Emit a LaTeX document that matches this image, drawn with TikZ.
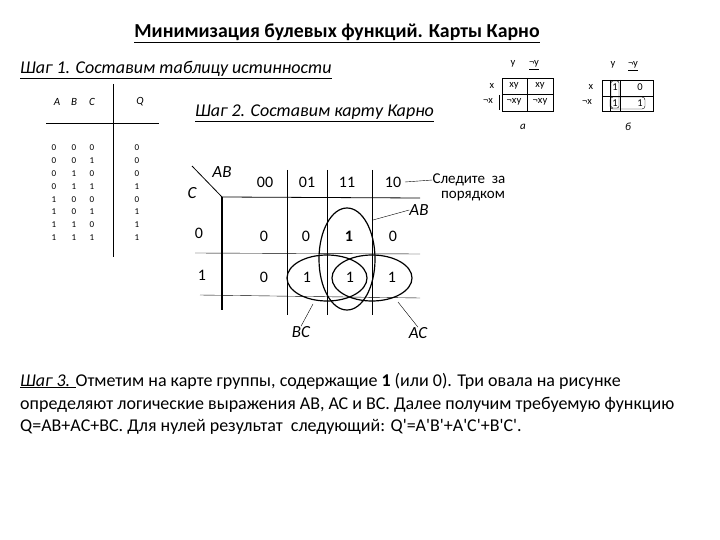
\documentclass[tikz,border=0pt]{standalone}
\usepackage{fontspec}
\setmainfont{Carlito}
\newfontfamily\primefont{Carlito}
\newcommand{\prm}{{\primefont '}}
\tikzset{
    heading/.style={anchor=base west,inner sep=0pt,font=\fontsize{18}{20}\selectfont},
    steptext/.style={anchor=base west,inner sep=0pt,font=\fontsize{18}{20}\selectfont\itshape},
    bit/.style={inner sep=0pt,font=\fontsize{9}{10}\selectfont},
    headbit/.style={inner sep=0pt,font=\fontsize{11}{12}\selectfont\itshape},
    mapbit/.style={inner sep=0pt,font=\fontsize{16}{18}\selectfont},
    notetext/.style={inner sep=0pt,font=\fontsize{15}{16}\selectfont},
    maplabel/.style={inner sep=0pt,font=\fontsize{17}{18}\selectfont\itshape},
    smalltext/.style={inner sep=0pt,font=\fontsize{10.5}{12}\selectfont},
    oval/.style={line width=1.2pt}
}
\begin{document}
\begin{tikzpicture}[x=1pt,y=-1pt]
    \useasboundingbox (0,0) rectangle (720,540);
    % Title and steps
    \node[heading,anchor=base,font=\fontsize{19.8}{22}\selectfont] (title) at (337,38) {\textbf{\underline{Минимизация булевых функций. Карты Карно}}};
    \node[steptext] (stepone) at (20,74) {\underline{Шаг 1. Составим таблицу истинности}};
    \node[steptext] (steptwo) at (195,117) {\underline{Шаг 2. Составим карту Карно}};
    % Truth table
    \draw[thin] (113,84) -- (113,257);
    \draw[thick] (46,123) -- (159,123);
    \node[headbit] (headA) at (57,102) {A};
    \node[headbit] (headB) at (74,102) {B};
    \node[headbit] (headC) at (92,102) {C};
    \node[headbit] (headQ) at (140,102) {Q};
    \foreach \r/\y/\a/\b/\c/\q in {1/148/0/0/0/0,2/161/0/0/1/0,3/174/0/1/0/0,4/187/0/1/1/1,5/200/1/0/0/0,6/212/1/0/1/1,7/225/1/1/0/1,8/238/1/1/1/1} {
        \node[bit] (a\r) at (54,\y) {\a};
        \node[bit] (b\r) at (74,\y) {\b};
        \node[bit] (c\r) at (92,\y) {\c};
        \node[bit] (q\r) at (137,\y) {\q};
    }
    % Karnaugh map grid
    \draw[thick] (192,166) -- (222,197);
    \draw[line width=1.2pt] (222,197) -- (222,310);
    \draw[thick] (222,197) -- (420,198);
    \draw (195,253) -- (420,254);
    \draw (200,295) -- (420,298);
    \foreach \x in {287,327,372}
        \draw (\x,170) -- (\x,315);
    \node[maplabel] (ab) at (222,172) {AB};
    \node[maplabel] (c) at (192,193) {C};
    \foreach \n/\x in {00/265,01/307,11/347,10/393}
        \node[mapbit] (col\n) at (\x,182) {\n};
    \node[mapbit] (row0) at (199,233) {0};
    \node[mapbit] (row1) at (202,275) {1};
    \node[mapbit] (m00) at (264,236) {0};
    \node[mapbit] (m01) at (306,236) {0};
    \node[mapbit] (m11) at (349,236) {\textbf{1}};
    \node[mapbit] (m10) at (393,236) {0};
    \node[mapbit] (n00) at (264,277) {0};
    \node[mapbit] (n01) at (307,277) {1};
    \node[mapbit] (n11) at (350,277) {1};
    \node[mapbit] (n10) at (392,277) {1};
    % Ovals
    \draw[oval] (347,259) ellipse (28 and 51);
    \draw[oval] (372,278) ellipse (40 and 23);
    \draw[oval] (327,278) ellipse (40 and 23);
    % Remarks and leaders
    \node[notetext] (note) at (469,180) {Следите\ \ за};
    \node[notetext] (noteb) at (473,196) {порядком};
    \draw (col10) ++(12,0) coordinate (tail) -- (note.west);
    \node[maplabel] (labelab) at (419,210) {AB};
    \node[maplabel] (labelbc) at (301,332) {BC};
    \node[maplabel] (labelac) at (418,333) {AC};
    \coordinate (hitab) at (373,220);
    \coordinate (hitbc) at (313,304);
    \coordinate (hitac) at (398,302);
    \draw (hitab) -- (labelab.west);
    \draw (hitbc) -- (labelbc.north);
    \draw (hitac) -- (labelac.north);
    % Small map a
    \draw (502,78) rectangle (553,111);
    \draw (527,78) -- (527,111);
    \draw (502,94) -- (553,94);
    \draw[thick] (499,95) -- (499,110);
    \node[smalltext] (ay) at (513,64) {y};
    \node[smalltext] (any) at (534,65) {\underline{¬y}};
    \node[smalltext] (ax) at (492,86) {x};
    \node[smalltext] (anx) at (488,101) {¬x};
    \node[smalltext] (a11) at (514,86) {xy};
    \node[smalltext] (a12) at (540,86) {xy};
    \node[smalltext] (a21) at (514,102) {¬xy};
    \node[smalltext] (a22) at (540,102) {¬xy};
    \node[headbit] (capa) at (523,127) {а};
    % Small map b
    \draw (602,80) rectangle (653,111);
    \draw (610,80) -- (610,111);
    \draw (620,80) -- (620,111);
    \draw (602,96) -- (653,96);
    \node[smalltext] (by) at (613,65) {y};
    \node[smalltext] (bny) at (633,66) {\underline{¬y}};
    \node[smalltext] (bx) at (591,87) {x};
    \node[smalltext] (bnx) at (587,102) {¬x};
    \node[smalltext] (b11) at (615,87) {1};
    \node[smalltext] (b12) at (640,87) {0};
    \node[smalltext] (b21) at (615,103) {1};
    \node[smalltext] (b22) at (640,103) {1};
    \draw[rounded corners=2pt] (611,81) rectangle (619,108);
    \draw[rounded corners=3pt] (610,97) rectangle (645,109);
    \node[headbit] (capb) at (628,127) {б};
    % Step 3
    \node[heading] (linea) at (20,386) {\textit{\underline{Шаг 3. }}Отметим на карте группы, содержащие \textbf{1} (или 0). Три овала на рисунке};
    \node[heading] (lineb) at (20,409) {определяют логические выражения АВ, АС и ВС. Далее получим требуемую функцию};
    \node[heading] (linec) at (20,431) {Q=AB+AC+BC. Для нулей результат\ \ следующий: Q\prm=A\prm B\prm+A\prm C\prm+B\prm C\prm.};
\end{tikzpicture}
\end{document}
